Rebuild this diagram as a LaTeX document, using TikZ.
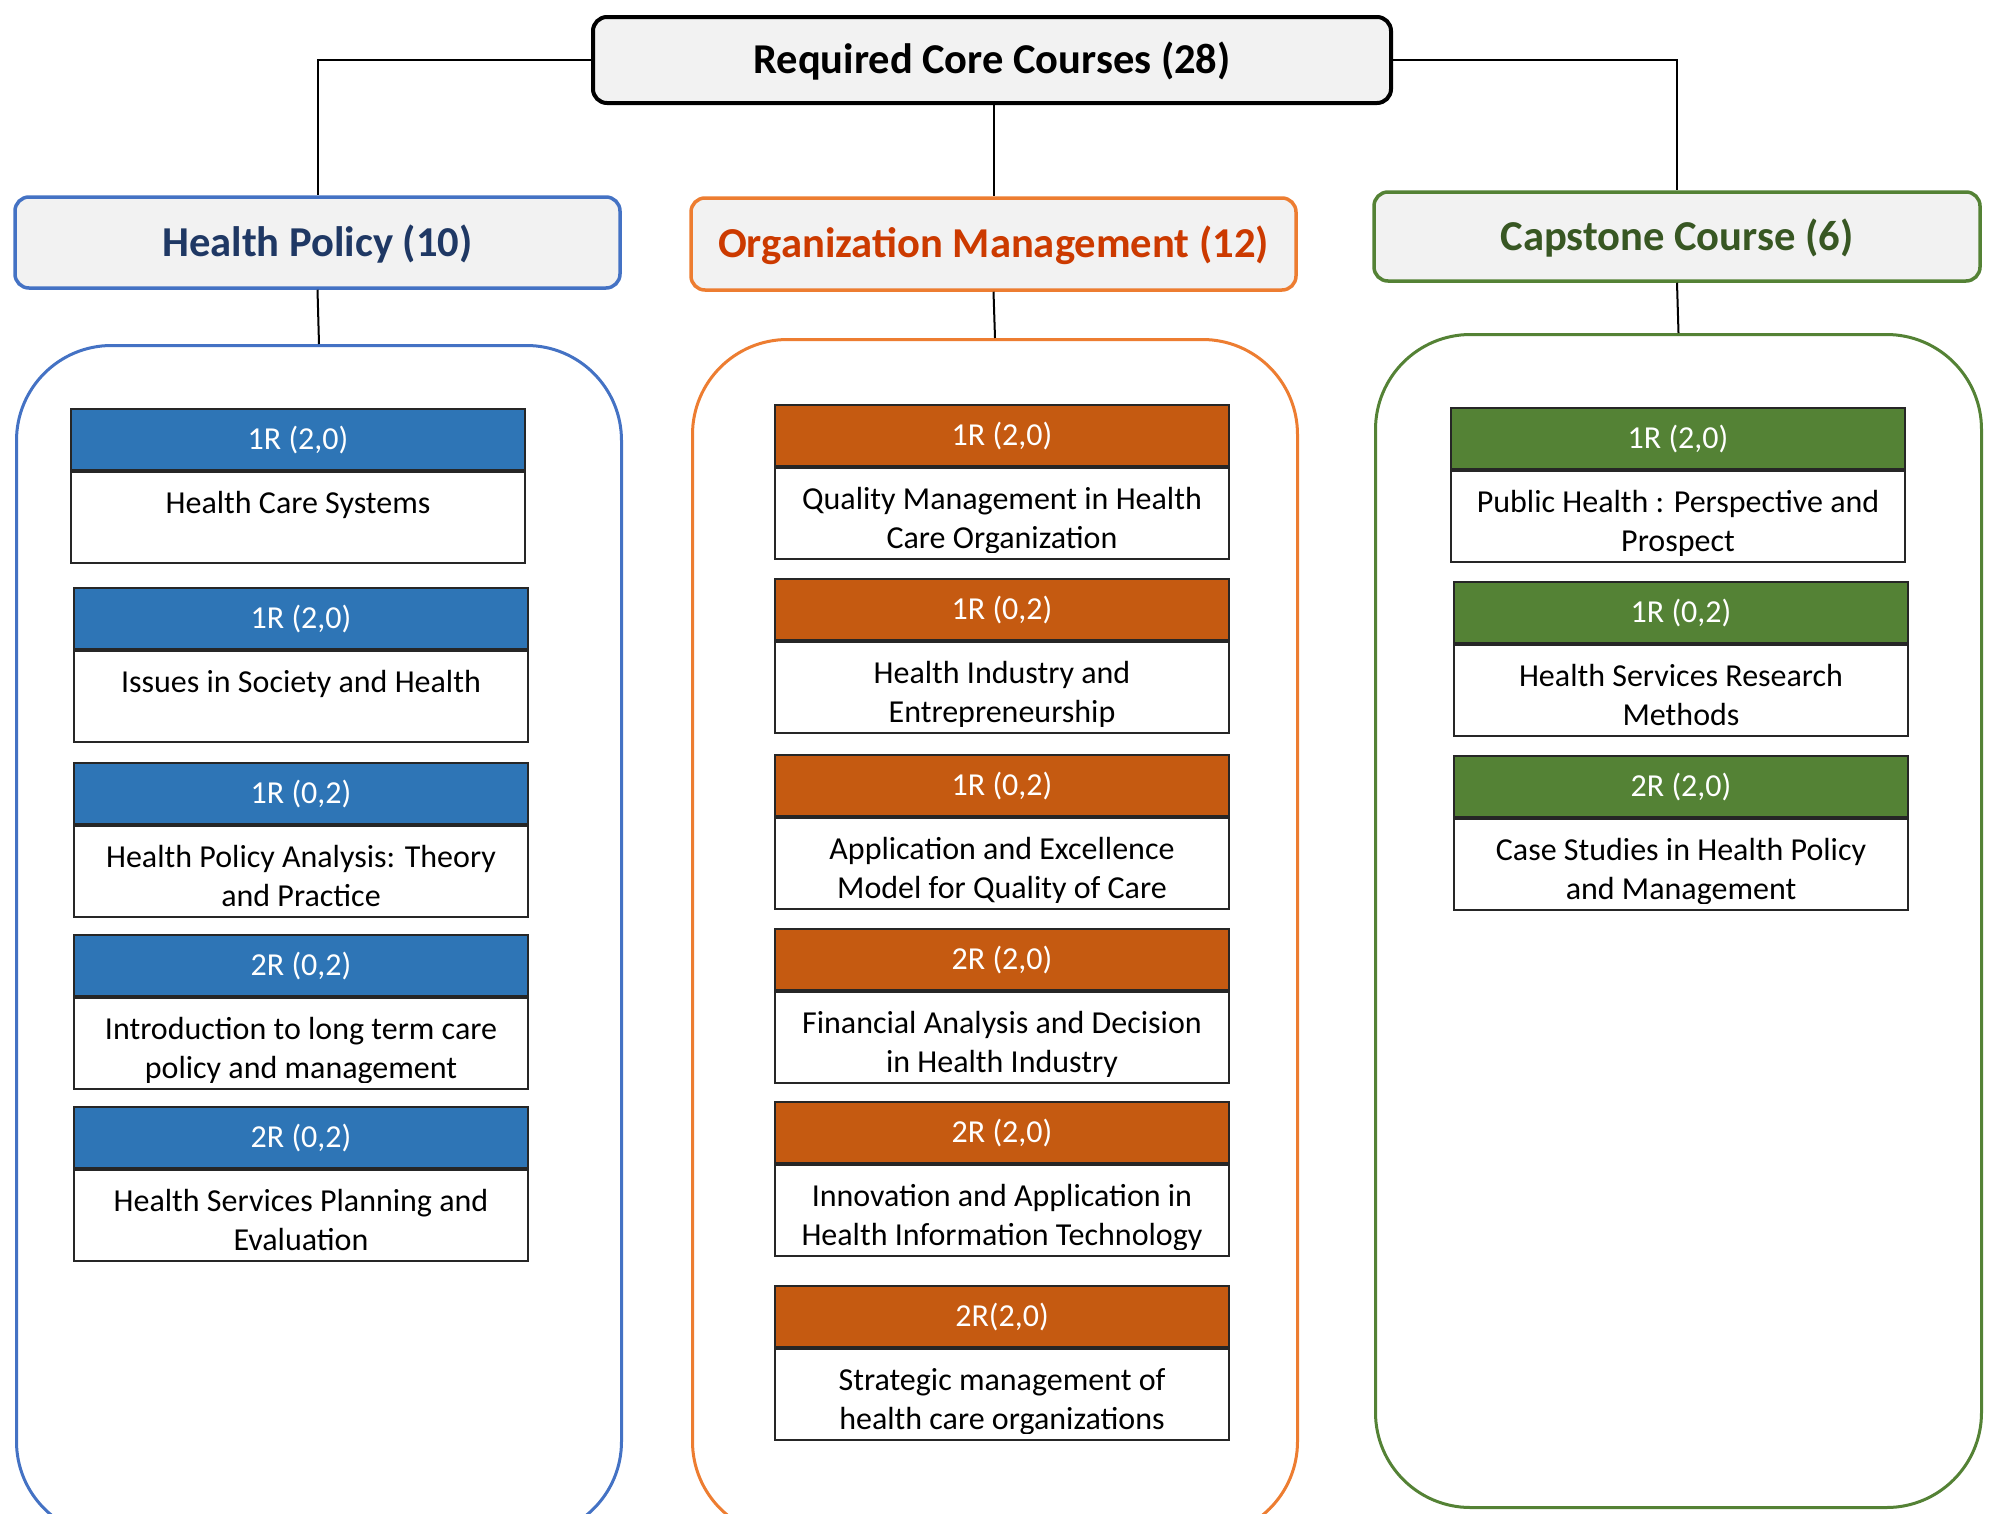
\documentclass[tikz,border=0pt]{standalone}
\usepackage{fontspec}
\setmainfont{Carlito}
\usetikzlibrary{calc}
\definecolor{hpband}{HTML}{2E75B6}
\definecolor{omband}{HTML}{C55A11}
\definecolor{cpband}{HTML}{548235}
\definecolor{hpline}{HTML}{4472C4}
\definecolor{omline}{HTML}{ED7D31}
\definecolor{cpline}{HTML}{548235}
\definecolor{hptext}{HTML}{1F3864}
\definecolor{omtext}{HTML}{CC3A00}
\definecolor{cptext}{HTML}{385723}
\definecolor{boxfill}{HTML}{F2F2F2}
\definecolor{edge}{HTML}{262626}
% #1 name, #2 left x, #3 top y, #4 band colour, #5 code, #6 first line, #7 second line
\newcommand\course[7]{%
  \node[band, fill=#4, anchor=north west] (#1h) at (#2,#3) {#5};
  \node[bodybox, anchor=north] (#1b) at (#1h.south) {};
  \begin{scope}
    \clip (#1b.north west) rectangle ($(#1b.south east)+(0,-8)$);
    \node[coursetext, anchor=base] (#1t) at ($(#1b.north)+(0,81)$) {#6\\\strut #7};
  \end{scope}}
\begin{document}
\begin{tikzpicture}[x=1pt,y=-1pt,
  topbox/.style={draw=black, line width=4pt, rounded corners=14pt, fill=boxfill,
    minimum width=798pt, minimum height=86pt, inner sep=0pt,
    text height=27.4pt, text depth=0pt,
    font=\bfseries\fontsize{42.5}{50}\selectfont},
  secbox/.style={line width=3.5pt, rounded corners=14pt, fill=boxfill,
    minimum width=605pt, minimum height=90pt, inner sep=0pt,
    text height=27.4pt, text depth=0pt,
    font=\bfseries\fontsize{42.6}{50}\selectfont},
  band/.style={draw=edge, line width=2pt, minimum width=454pt, minimum height=61pt,
    inner sep=0pt, text=white, text height=20.6pt, text depth=0pt,
    font=\fontsize{32}{38}\selectfont},
  bodybox/.style={draw=edge, line width=2pt, fill=white, minimum width=454pt,
    minimum height=91pt, inner sep=0pt},
  coursetext/.style={align=center, inner sep=0pt, font=\fontsize{32}{39}\selectfont},
  container/.style={line width=3pt, rounded corners=95pt, inner sep=0pt},
  link/.style={draw=black, line width=2pt}]
\clip (0,0) rectangle (1995,1513);
\fill[white] (0,0) rectangle (1995,1513);

% containers
\node[container, draw=hpline, minimum width=605pt, minimum height=1191pt, anchor=north west] (hpc) at (15,344) {};
\node[container, draw=omline, minimum width=605pt, minimum height=1197pt, anchor=north west] (omc) at (691,338) {};
\node[container, draw=cpline, minimum width=606pt, minimum height=1173pt, anchor=north west] (cpc) at (1374,333) {};

% top and section boxes
\node[topbox] (top) at (992,60) {Required Core Courses (28)};
\node[secbox, draw=hpline, text=hptext, minimum height=91pt] (hp) at (317.5,242.5) {Health Policy (10)};
\node[secbox, draw=omline, text=omtext, minimum height=92pt] (om) at (993.5,244) {Organization Management (12)};
\node[secbox, draw=cpline, text=cptext, minimum width=606pt, minimum height=89pt] (cp) at (1677,236.5) {Capstone Course (6)};

% connectors
\draw[link] (top.west) -| (hp.north);
\draw[link] (top.east) -| (cp.north);
\draw[link] (top.south -| om.north) -- (om.north);
\draw[link] (hp.south) -- (hpc.north);
\draw[link] (om.south) -- (omc.north);
\draw[link] (cp.south) -- (cpc.north);

% Health Policy courses
\course{hpa}{70}{408}{hpband}{1R (2,0)}{Health Care Systems}{}
\course{hpb}{73}{587}{hpband}{1R (2,0)}{Issues in Society and Health}{}
\course{hpcc}{73}{762}{hpband}{1R (0,2)}{Health Policy Analysis: Theory}{and Practice}
\course{hpd}{73}{934}{hpband}{2R (0,2)}{Introduction to long term care}{policy and management}
\course{hpe}{73}{1106}{hpband}{2R (0,2)}{Health Services Planning and}{Evaluation}

% Organization Management courses
\course{oma}{774}{404}{omband}{1R (2,0)}{Quality Management in Health}{Care Organization}
\course{omb}{774}{578}{omband}{1R (0,2)}{Health Industry and}{Entrepreneurship}
\course{omcc}{774}{754}{omband}{1R (0,2)}{Application and Excellence}{Model for Quality of Care}
\course{omd}{774}{928}{omband}{2R (2,0)}{Financial Analysis and Decision}{in Health Industry}
\course{ome}{774}{1101}{omband}{2R (2,0)}{Innovation and Application in}{Health Information Technology}
\course{omf}{774}{1285}{omband}{2R(2,0)}{Strategic management of}{health care organizations}

% Capstone courses
\course{cpa}{1450}{407}{cpband}{1R (2,0)}{Public Health : Perspective and}{Prospect}
\course{cpb}{1453}{581}{cpband}{1R (0,2)}{Health Services Research}{Methods}
\course{cpcc}{1453}{755}{cpband}{2R (2,0)}{Case Studies in Health Policy}{and Management}
\end{tikzpicture}
\end{document}
